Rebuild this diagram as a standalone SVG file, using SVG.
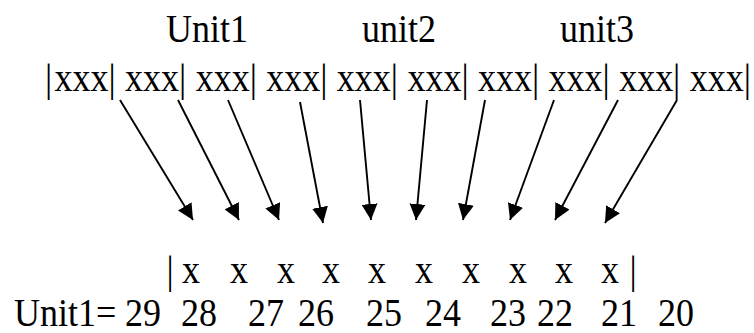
<svg xmlns="http://www.w3.org/2000/svg" width="754" height="333" viewBox="0 0 754 333">
  <style>
    .t { font-family: "Liberation Serif", "Times New Roman", serif; font-size: 36px; fill: #000; }
    .conn line { stroke: #000; stroke-width: 1.9; fill: none; marker-end: url(#head); }
  </style>
  <defs>
    <marker id="head" markerUnits="userSpaceOnUse" markerWidth="17" markerHeight="16" refX="16" refY="8" orient="auto">
      <path d="M0,0 L16,8 L0,16 z" fill="#000"/>
    </marker>
  </defs>
  <rect width="754" height="333" fill="#fff"/>

  <!-- all lettering is set slightly taller than wide (y values are pre-divided by 1.09) -->
  <g transform="scale(1,1.09)">
    <!-- unit headers -->
    <g id="headers">
      <text class="t" x="166" y="38.5">Unit1</text>
      <text class="t" x="362" y="38.5">unit2</text>
      <text class="t" x="560" y="38.5">unit3</text>
    </g>

    <!-- source cells -->
    <g id="source">
      <text class="t" y="83.5" word-spacing="0.4"><tspan x="45">|</tspan><tspan x="54.5">xxx| xxx| xxx| xxx| xxx| xxx| xxx| xxx| xxx| xxx|</tspan></text>
    </g>

    <!-- target slots -->
    <g id="target">
      <text class="t" y="259.6"><tspan x="166.5">|</tspan><tspan x="182">x</tspan><tspan x="230">x</tspan><tspan x="277">x</tspan><tspan x="322">x</tspan><tspan x="368">x</tspan><tspan x="415">x</tspan><tspan x="462">x</tspan><tspan x="509">x</tspan><tspan x="555">x</tspan><tspan x="601">x</tspan><tspan x="629.5">|</tspan></text>
    </g>

    <!-- bit numbers -->
    <g id="numbers">
      <text class="t" y="299"><tspan x="14">Unit1=</tspan><tspan x="125">29</tspan><tspan x="181">28</tspan><tspan x="248">27</tspan><tspan x="298">26</tspan><tspan x="366">25</tspan><tspan x="425">24</tspan><tspan x="490">23</tspan><tspan x="537">22</tspan><tspan x="601">21</tspan><tspan x="658">20</tspan></text>
    </g>
  </g>

  <!-- mapping arrows -->
  <g id="connectors" class="conn">
    <line x1="120" y1="100" x2="193" y2="220"/>
    <line x1="178" y1="100" x2="239" y2="220"/>
    <line x1="228" y1="100" x2="279" y2="220"/>
    <line x1="300" y1="102" x2="323" y2="223"/>
    <line x1="360" y1="100" x2="371" y2="220"/>
    <line x1="427" y1="100" x2="416" y2="220"/>
    <line x1="485" y1="100" x2="463" y2="220"/>
    <line x1="554" y1="100" x2="510" y2="220"/>
    <line x1="618" y1="100" x2="555" y2="220"/>
    <line x1="677" y1="100" x2="605" y2="223"/>
  </g>
</svg>
